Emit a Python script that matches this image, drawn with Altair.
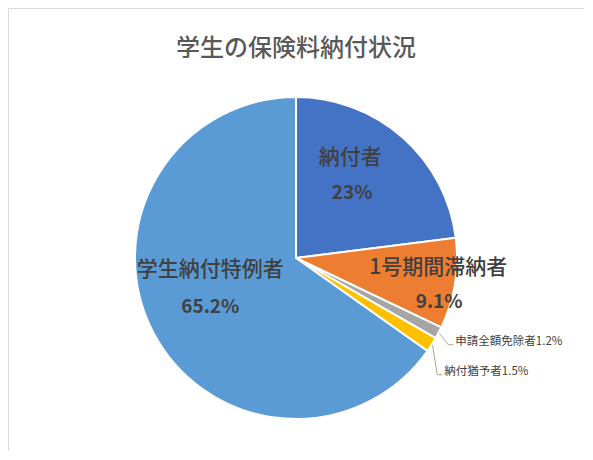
import altair as alt
import pandas as pd

categories = ["納付者", "1号期間滞納者", "申請全額免除者", "納付猶予者", "学生納付特例者"]
values = [23, 9.1, 1.2, 1.5, 65.2]
colors = ["#4472C4", "#ED7D31", "#A5A5A5", "#FFC000", "#5B9BD5"]
title_text = "学生の保険料納付状況"

df = pd.DataFrame({"cat": categories, "value": values, "order": list(range(len(categories)))})

FONT = "Noto Sans CJK JP"
CX, CY, R = 288, 250, 161
TXT = "#404040"

base = (
    alt.Chart(df)
    .transform_window(cum="sum(value)", sort=[alt.SortField("order")], frame=[None, 0])
    .transform_joinaggregate(total="sum(value)")
    .transform_calculate(
        mid="(datum.cum - datum.value/2) / datum.total * 2 * PI",
        pct="datum.value + '%'",
    )
)

pie = alt.Chart(df).mark_arc(outerRadius=R, stroke="white", strokeWidth=2).encode(
    theta=alt.Theta("value:Q", stack=True),
    order=alt.Order("order:Q"),
    color=alt.Color("cat:N", scale=alt.Scale(domain=categories, range=colors), legend=None),
    x=alt.value(CX),
    y=alt.value(CY),
)


def polar(name, r, dx=0, dy=0):
    return {
        name + "x": f"{CX} + {r}*sin(datum.mid) + {dx}",
        name + "y": f"{CY} - {r}*cos(datum.mid) + {dy}",
    }


def big_label(cat, r, dx1, dy1, dx2, dy2):
    b = base.transform_filter(alt.datum.cat == cat).transform_calculate(
        **polar("a", r, dx1, dy1), **polar("b", r, dx2, dy2)
    )
    t1 = b.mark_text(font=FONT, fontSize=21, fontWeight=500, color=TXT, baseline="middle", align="center").encode(
        x=alt.X("ax:Q", scale=None, axis=None), y=alt.Y("ay:Q", scale=None, axis=None), text="cat:N"
    )
    t2 = b.mark_text(font=FONT, fontSize=19, fontWeight="bold", color=TXT, baseline="middle", align="center").encode(
        x=alt.X("bx:Q", scale=None, axis=None), y=alt.Y("by:Q", scale=None, axis=None), text="pct:N"
    )
    return [t1, t2]


def small_label(cat, r, dy):
    b = base.transform_filter(alt.datum.cat == cat).transform_calculate(
        **polar("t", r, 0, dy), **polar("s", R + 1)
    ).transform_calculate(
        ex="datum.tx - 7", ey="datum.ty + 3", fx="datum.tx - 2", label="datum.cat + datum.pct"
    )
    l1 = b.mark_rule(color="#A6A6A6", strokeWidth=1).encode(
        x=alt.X("sx:Q", scale=None, axis=None), y=alt.Y("sy:Q", scale=None, axis=None),
        x2="ex:Q", y2="ey:Q",
    )
    l2 = b.mark_rule(color="#A6A6A6", strokeWidth=1).encode(
        x=alt.X("ex:Q", scale=None, axis=None), y=alt.Y("ey:Q", scale=None, axis=None),
        x2="fx:Q", y2="ey:Q",
    )
    t = b.mark_text(font=FONT, fontSize=11.5, color=TXT, baseline="middle", align="left").encode(
        x=alt.X("tx:Q", scale=None, axis=None), y=alt.Y("ty:Q", scale=None, axis=None), text="label:N"
    )
    return [l1, l2, t]


title = alt.Chart(pd.DataFrame({"t": [title_text]})).mark_text(
    font=FONT, fontSize=24, fontWeight=500, color="#595959", baseline="middle", align="center"
).encode(x=alt.value(CX), y=alt.value(41), text="t:N")

layers = [pie, title]
layers += big_label("納付者", 100, -12, -25, -10, 10)
layers += big_label("1号期間滞納者", 144, 0, -13, 1, 21)
layers += big_label("学生納付特例者", 92, -4, -30, -4, 7)
layers += small_label("申請全額免除者", 180, 0)
layers += small_label("納付猶予者", 176, 19)

chart = (
    alt.layer(*layers)
    .properties(width=576, height=443, padding=0, autosize="none", background="white")
    .configure_view(stroke="#D9D9D9", strokeWidth=1)
)

chart.save("out.html", embed_options={"renderer": "svg", "actions": False})
